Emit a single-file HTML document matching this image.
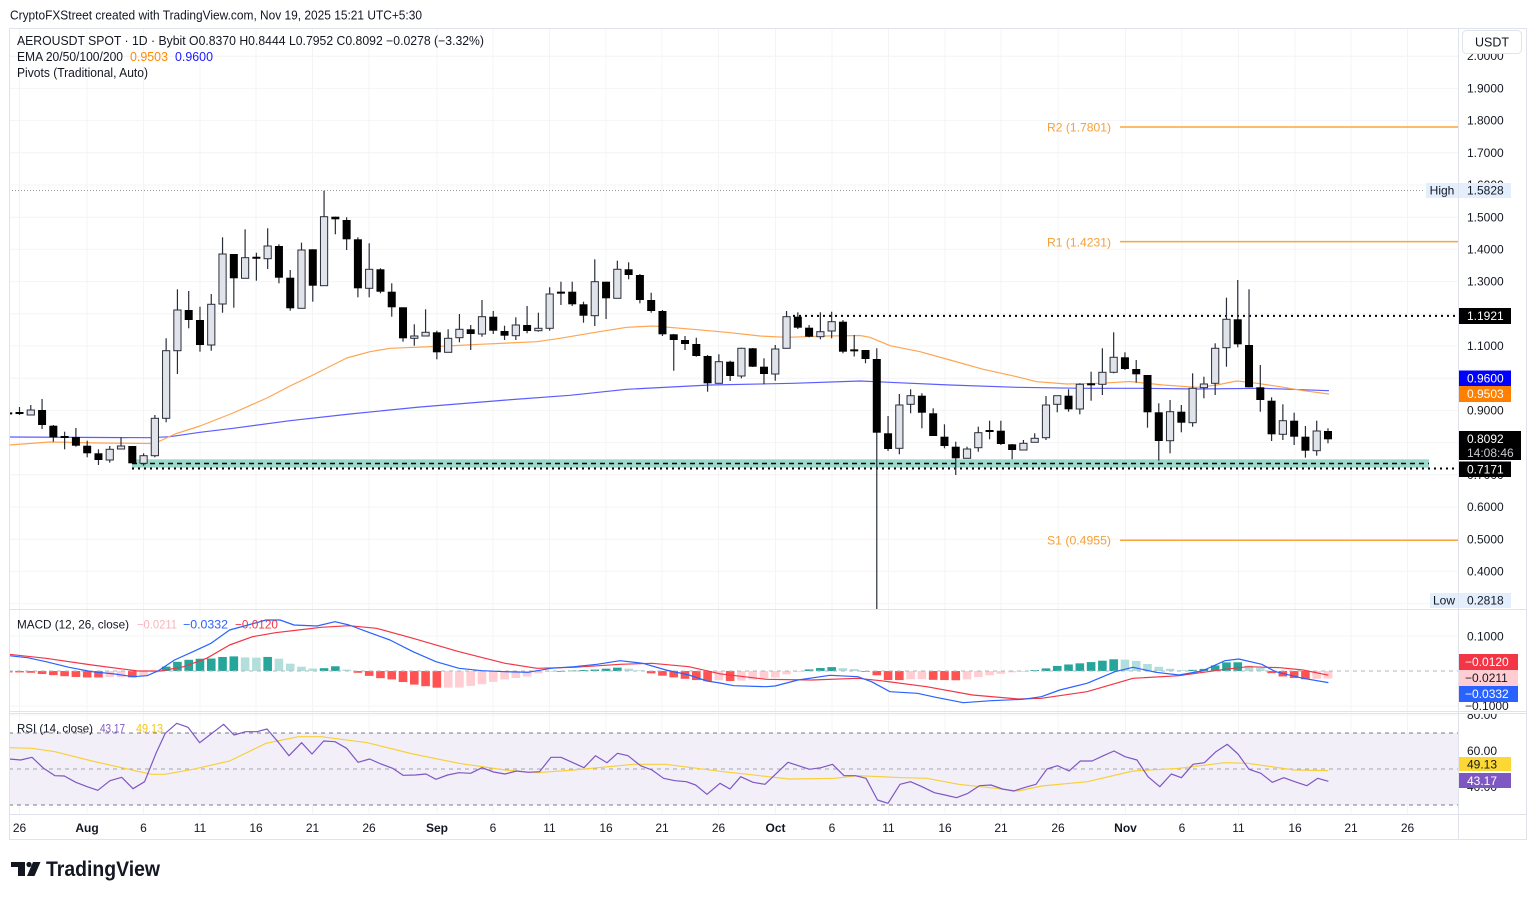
<!DOCTYPE html>
<html><head><meta charset="utf-8">
<style>
html,body{margin:0;padding:0;background:#fff;}
svg{display:block;font-family:"Liberation Sans",Arial,sans-serif;}
</style></head>
<body>
<svg id="c" width="1536" height="897" viewBox="0 0 1536 897" xmlns="http://www.w3.org/2000/svg">
<defs>
<clipPath id="cpMain"><rect x="9" y="28" width="1449" height="581"/></clipPath>
<clipPath id="cpMacd"><rect x="9" y="610" width="1449" height="102"/></clipPath>
<clipPath id="cpRsi"><rect x="9" y="714" width="1449" height="100"/></clipPath>
<clipPath id="cpAxR"><rect x="1459" y="714" width="70" height="100"/></clipPath>
</defs>
<rect x="0" y="0" width="1536" height="897" fill="#fff"/>
<g id="grid"></g>
<g id="shapes"></g>
<!-- frame -->
<g fill="none" stroke="#e0e3eb" stroke-width="1">
<rect x="9.5" y="28.5" width="1517" height="811"/>
<line x1="1458.5" y1="28" x2="1458.5" y2="840"/>
<line x1="9" y1="609.5" x2="1526" y2="609.5"/>
<line x1="9" y1="711.5" x2="1526" y2="711.5"/>
<line x1="9" y1="713.5" x2="1526" y2="713.5"/>
<line x1="9" y1="814.5" x2="1526" y2="814.5"/>
</g>
<g id="boxes"></g>

<!-- header -->
<text x="10" y="19.5" font-size="13" fill="#131722" textLength="412" lengthAdjust="spacingAndGlyphs">CryptoFXStreet created with TradingView.com, Nov 19, 2025 15:21 UTC+5:30</text>
<text x="17" y="45" font-size="12.5" fill="#131722" textLength="467" lengthAdjust="spacingAndGlyphs">AEROUSDT SPOT · 1D · Bybit  O0.8370  H0.8444  L0.7952  C0.8092  −0.0278 (−3.32%)</text>
<text x="17" y="61" font-size="12.5" fill="#131722" textLength="106" lengthAdjust="spacingAndGlyphs">EMA 20/50/100/200</text>
<text x="130" y="61" font-size="12.5" fill="#ff8a00" textLength="38" lengthAdjust="spacingAndGlyphs">0.9503</text>
<text x="175" y="61" font-size="12.5" fill="#1a1aff" textLength="38" lengthAdjust="spacingAndGlyphs">0.9600</text>
<text x="17" y="77" font-size="12.5" fill="#131722" textLength="131" lengthAdjust="spacingAndGlyphs">Pivots (Traditional, Auto)</text>

<!-- pivot labels -->
<g font-size="12" fill="#f5a03a">
<text x="1047" y="131.5" textLength="64" lengthAdjust="spacingAndGlyphs">R2 (1.7801)</text>
<text x="1047" y="246.5" textLength="64" lengthAdjust="spacingAndGlyphs">R1 (1.4231)</text>
<text x="1047" y="544.5" textLength="64" lengthAdjust="spacingAndGlyphs">S1 (0.4955)</text>
</g>

<!-- MACD / RSI legends -->
<text x="17" y="628.5" font-size="12" fill="#131722" textLength="112" lengthAdjust="spacingAndGlyphs">MACD (12, 26, close)</text>
<text x="137" y="628.5" font-size="12" fill="#f7b4bd" textLength="40" lengthAdjust="spacingAndGlyphs">−0.0211</text>
<text x="183" y="628.5" font-size="12" fill="#2962ff" textLength="45" lengthAdjust="spacingAndGlyphs">−0.0332</text>
<text x="235" y="628.5" font-size="12" fill="#f23645" textLength="43" lengthAdjust="spacingAndGlyphs">−0.0120</text>
<text x="17" y="732.5" font-size="12" fill="#131722" textLength="76" lengthAdjust="spacingAndGlyphs">RSI (14, close)</text>
<text x="100" y="732.5" font-size="12" fill="#7e57c2" textLength="25" lengthAdjust="spacingAndGlyphs">43.17</text>
<text x="136" y="732.5" font-size="12" fill="#f2c618" textLength="27" lengthAdjust="spacingAndGlyphs">49.13</text>

<!-- x axis -->
<g font-size="12" fill="#131722" text-anchor="middle">
<text x="19.5" y="832">26</text>
<text x="87" y="832" font-weight="bold">Aug</text>
<text x="143.5" y="832">6</text>
<text x="200" y="832">11</text>
<text x="256" y="832">16</text>
<text x="312.5" y="832">21</text>
<text x="369" y="832">26</text>
<text x="437" y="832" font-weight="bold">Sep</text>
<text x="493" y="832">6</text>
<text x="549.5" y="832">11</text>
<text x="606" y="832">16</text>
<text x="662" y="832">21</text>
<text x="718.5" y="832">26</text>
<text x="775.5" y="832" font-weight="bold">Oct</text>
<text x="832" y="832">6</text>
<text x="888.5" y="832">11</text>
<text x="945" y="832">16</text>
<text x="1001" y="832">21</text>
<text x="1058" y="832">26</text>
<text x="1125.5" y="832" font-weight="bold">Nov</text>
<text x="1182" y="832">6</text>
<text x="1238.5" y="832">11</text>
<text x="1295" y="832">16</text>
<text x="1351" y="832">21</text>
<text x="1407.5" y="832">26</text>
</g>

<!-- right axis labels main -->
<g font-size="12" fill="#131722">
<text x="1467" y="60">2.0000</text>
<text x="1467" y="92.5">1.9000</text>
<text x="1467" y="124.7">1.8000</text>
<text x="1467" y="156.9">1.7000</text>
<text x="1467" y="189">1.6000</text>
<text x="1467" y="221.3">1.5000</text>
<text x="1467" y="253.5">1.4000</text>
<text x="1467" y="285.7">1.3000</text>
<text x="1467" y="318">1.2000</text>
<text x="1467" y="350.1">1.1000</text>
<text x="1467" y="382.3">1.0000</text>
<text x="1467" y="414.5">0.9000</text>
<text x="1467" y="446.7">0.8000</text>
<text x="1467" y="478.9">0.7000</text>
<text x="1467" y="511.1">0.6000</text>
<text x="1467" y="543.3">0.5000</text>
<text x="1467" y="575.5">0.4000</text>
<text x="1467" y="607.7">0.3000</text>
<text x="1467" y="640.5">0.1000</text>
<text x="1465" y="710">−0.1000</text>
<g clip-path="url(#cpAxR)">
<text x="1467" y="719">80.00</text>
<text x="1467" y="755">60.00</text>
<text x="1467" y="791">40.00</text>
</g>
</g>

<!-- Right axis boxes -->
<rect x="1462.5" y="30.5" width="59" height="23" rx="4" fill="#fff" stroke="#e0e3eb"/>
<text x="1492" y="46.5" font-size="12.5" fill="#131722" text-anchor="middle">USDT</text>

<rect x="1426" y="183" width="32" height="15" fill="#e3effd"/>
<text x="1442" y="194.5" font-size="12" fill="#131722" text-anchor="middle">High</text>
<rect x="1459" y="183" width="52" height="15" fill="#e3effd"/>
<text x="1467" y="194.5" font-size="12" fill="#131722">1.5828</text>

<rect x="1459" y="308" width="52" height="16" fill="#000"/>
<text x="1467" y="320" font-size="12" fill="#fff">1.1921</text>

<rect x="1459" y="370.5" width="52" height="15.5" fill="#0000ff"/>
<text x="1467" y="382.5" font-size="12" fill="#fff">0.9600</text>
<rect x="1459" y="386" width="52" height="16" fill="#ff7f00"/>
<text x="1467" y="398" font-size="12" fill="#fff">0.9503</text>

<rect x="1459" y="431" width="62" height="29" fill="#000"/>
<text x="1467" y="443" font-size="12" fill="#fff">0.8092</text>
<text x="1467" y="457" font-size="12" fill="#c8cad0">14:08:46</text>
<rect x="1459" y="461.5" width="52" height="15.5" fill="#000"/>
<text x="1467" y="473.5" font-size="12" fill="#fff">0.7171</text>

<rect x="1430" y="593" width="28" height="15" fill="#e3effd"/>
<text x="1444" y="604.5" font-size="12" fill="#131722" text-anchor="middle">Low</text>
<rect x="1459" y="593" width="52" height="15" fill="#e3effd"/>
<text x="1467" y="604.5" font-size="12" fill="#131722">0.2818</text>

<rect x="1459" y="654" width="59" height="16" fill="#f23645"/>
<text x="1465" y="666" font-size="12" fill="#fff">−0.0120</text>
<rect x="1459" y="670" width="59" height="16" fill="#ffcdd2"/>
<text x="1465" y="682" font-size="12" fill="#131722">−0.0211</text>
<rect x="1459" y="686" width="59" height="16" fill="#2962ff"/>
<text x="1465" y="698" font-size="12" fill="#fff">−0.0332</text>

<rect x="1459" y="757" width="52" height="14" fill="#fdd835"/>
<text x="1467" y="768.5" font-size="12" fill="#131722">49.13</text>
<rect x="1459" y="773" width="52" height="15" fill="#7e57c2"/>
<text x="1467" y="785" font-size="12" fill="#fff">43.17</text>

<!-- logo -->
<g fill="#131722">
<rect x="11" y="862" width="14" height="5"/>
<rect x="18" y="862" width="7" height="14"/>
<circle cx="29" cy="864.5" r="2.6"/>
<polygon points="33,862 40.5,862 34.5,876 27,876"/>
</g>
<text x="46" y="876" font-size="21" font-weight="bold" fill="#131722" textLength="114" lengthAdjust="spacingAndGlyphs">TradingView</text>
</svg>

<script>
(function(){
var NS="http://www.w3.org/2000/svg";
var shapes=document.getElementById("shapes");
var grid=document.getElementById("grid");
function el(tag,attrs,parent){var e=document.createElementNS(NS,tag);for(var k in attrs)e.setAttribute(k,attrs[k]);(parent||shapes).appendChild(e);return e;}
function X(i){return 19.5+i*11.28;}

// grid
var gx=[19.5,87,143.5,200,256,312.5,369,437,493,549.5,606,662,718.5,775.5,832,888.5,945,1001,1058,1125.5,1182,1238.5,1295,1351,1407.5];
gx.forEach(function(x){el("line",{x1:x,y1:29,x2:x,y2:814,stroke:"#f3f4f6","stroke-width":1},grid);});
for(var p=2.0;p>=0.29;p-=0.1){var y=88.4+(1.9-p)*322;if(y>29&&y<609)el("line",{x1:9,y1:y,x2:1458,y2:y,stroke:"#f3f4f6","stroke-width":1},grid);}
[636,706].forEach(function(y){el("line",{x1:9,y1:y,x2:1458,y2:y,stroke:"#f3f4f6"},grid);});
[715,751,787].forEach(function(y){el("line",{x1:9,y1:y,x2:1458,y2:y,stroke:"#f3f4f6"},grid);});

// ---------- main pane ----------
var gm=el("g",{"clip-path":"url(#cpMain)"});
// teal zone
el("rect",{x:132,y:459.3,width:1297,height:8.4,fill:"#9bd9cc"},gm);
el("line",{x1:132,y1:463.5,x2:1429,y2:463.5,stroke:"#000","stroke-width":1.5,"stroke-dasharray":"5 4"},gm);
el("line",{x1:132,y1:468.5,x2:1458,y2:468.5,stroke:"#000","stroke-width":2,"stroke-dasharray":"2 4"},gm);
// 1.1921 line
el("line",{x1:793,y1:315.9,x2:1458,y2:315.9,stroke:"#000","stroke-width":2,"stroke-dasharray":"2 4"},gm);
// high line
el("line",{x1:9,y1:190.5,x2:1425,y2:190.5,stroke:"#9598a1","stroke-width":1,"stroke-dasharray":"1 2"},gm);
// pivots
[127,241.6,540.2].forEach(function(y){el("line",{x1:1120,y1:y,x2:1458,y2:y,stroke:"#f9a53a","stroke-width":1.5},gm);});

function poly(pts,color,w,parent){el("polyline",{points:pts.map(function(p){return p[0]+","+p[1];}).join(" "),fill:"none",stroke:color,"stroke-width":w,"stroke-linejoin":"round"},parent);}
var orange=[[9,445],[50,442],[100,443],[150,443.5],[160,441],[175,434],[200,426],[233,413],[267,398],[290,386],[313,375],[346.7,358],[370,351.7],[390,348.3],[446.7,346],[480,344.3],[536.7,341.7],[560,338.3],[593,332.7],[626.7,327.3],[653,326],[693,329.3],[726.7,332.3],[760,336],[786.7,337.3],[826.7,336],[860,335.5],[870,337.3],[890,345.7],[920,351.7],[950,360],[983.3,369.3],[1016.7,376.7],[1036.7,381.7],[1066.7,384],[1100,383.3],[1130,381.5],[1163,385],[1196.7,387.3],[1216.7,385],[1236.7,381],[1250,382.3],[1280,386.7],[1303.3,390.7],[1329,394]];
var blue=[[9,437],[150,437.7],[170,436.7],[200,432.3],[233,428.3],[290,420.7],[350,414],[420,407],[506.7,400],[570,395.3],[626.7,389.3],[710,385],[793,383.3],[860,381],[950,385],[1016.7,387.3],[1083,388.3],[1140,388.3],[1196.7,389],[1263,388.3],[1329,390.7]];
poly(blue,"#5c5cff",1.2,gm);
poly(orange,"#ffa552",1.2,gm);

var C=[
[-1,413,412,414.5,413.8],[0,412,407,415,414],[1,415,405,415.5,410],[2,410,399,429,425],[3,425.7,425,441.7,437.3],
[4,436.5,431.7,449.3,437.5],[5,437,428,446.7,445.7],[6,445.7,440.7,457.3,453.3],[7,453.3,449.3,465,460],[8,460,446,462.7,449.3],
[9,449,437.3,449.5,446],[10,446,446,463.5,463.3],[11,463.3,453.3,465.7,455.7],[12,455.7,415,457.3,418.3],[13,418.3,338.3,422.3,350.7],
[14,350.7,289.3,374,310],[15,310,291,328.3,320],[16,320,306.7,351.7,345],[17,345,294,350.7,304.3],[18,304,237.3,312.7,254],
[19,254,254,307.7,278.3],[20,278.3,229.3,278.3,257.7],[21,257,252.7,280.7,258.5],[22,258.7,228.3,269,246],[23,246,244.3,283.3,277.7],
[24,277.7,270,310.7,308.3],[25,308.3,242.7,308.3,250],[26,249.3,249.3,301.7,285.7],[27,285.7,190.7,285.7,216.7],[28,216.7,216.7,234.3,219.3],
[29,220,217.3,250,239.3],[30,239.3,237.3,297.3,288.3],[31,288.3,243.3,297.3,269.3],[32,269.3,268.3,293.3,291.7],[33,291.7,283.3,316.7,307.3],
[34,307.3,307.3,341.7,338.3],[35,338.3,324.3,345.7,336],[36,336,309.3,336,332.3],[37,332.3,330.7,359.3,352.3],[38,352.3,329.3,352.3,338.3],
[39,337.7,314,342.3,329.3],[40,329.3,325,350,334],[41,334,300,336.7,316.7],[42,316.7,311,334,330.7],[43,331,325.7,340,335.7],
[44,335.7,317.3,340,325],[45,325,306,333.3,331],[46,330.7,312.7,331.7,328.3],[47,328.3,287.3,330.7,294],[48,292,281.7,305,293.3],
[49,291.7,281.7,306,304.3],[50,304.3,301.7,322.7,315.7],[51,315.7,259.3,326,281.7],[52,281.7,281.7,319,298.3],[53,298.3,260.7,298.3,269.3],
[54,269.3,262.3,279.3,275],[55,275,274,303.3,300],[56,300,292.7,312.7,311],[57,311,310,336,334.3],[58,334.3,334,370.7,340],
[59,340,336,350,344],[60,344,337.7,356.7,356],[61,356,355,391.7,383.3],[62,383.3,354.3,383.3,361.7],[63,361.7,360.7,381,376],
[64,376,347.7,378.3,348.3],[65,348.3,348,367,366.7],[66,366.7,358.3,384.3,374],[67,374,345,380.7,349],[68,348.3,311,348.3,316.7],
[69,316.7,312.3,329,327.7],[70,327.7,325,337.3,336.7],[71,336.7,312.3,339.3,331.7],[72,331,311.7,338.3,321.7],[73,321.7,320,353.3,351.7],
[74,350,335,356.5,350.7],[75,350,350,363.3,359],[76,359,348.3,609,432.7],[77,433.3,416,451,449],[78,448.3,394,454.3,405],
[79,404.3,389.3,413.3,395.7],[80,395.7,393.3,428.3,412.7],[81,413.3,408.3,436,436],[82,436.7,424.3,448.3,446],[83,446.7,441.7,475,458.3],
[84,458.3,446.7,458.3,449],[85,447.7,426.7,451.7,432.7],[86,430.5,420.7,439.3,431.5],[87,430.7,420.7,445,444],[88,444.3,444,459.3,450],
[89,450,440,450,443.3],[90,442.3,433.3,442.3,438.3],[91,437.7,396,440,405],[92,404.3,395.7,412.3,395.7],[93,395.7,389.3,411.7,409.3],
[94,409,383.3,414.3,384.3],[95,384,371.7,400.7,384.6],[96,384.3,348.3,395,372.3],[97,372.3,332.3,373.3,357.3],[98,357.3,352.3,370,369],
[99,369,360,382.7,374.3],[100,375,375,427.7,412.3],[101,412.3,403.3,460.7,441],[102,440.7,400,453.3,411.7],[103,411.7,405,432.3,422.7],
[104,422.7,373.3,426.7,388.3],[105,387.7,376.7,398.3,384],[106,383.3,343.3,395,348.3],[107,347.7,297.7,366.7,319.3],[108,319.3,280,347.3,344.3],
[109,345,289.3,387.3,387.3],[110,387.3,365,411.7,400],[111,400.7,397.3,441,434.3],[112,434.3,404.3,440,420.7],[113,420.7,412.7,445,436.7],
[114,436.7,426,457.7,450.7],[115,450.7,420.7,455.7,431],[116,431,428.3,443.3,439.3]
];
C.forEach(function(c){
  var x=X(c[0]),o=c[1],h=c[2],l=c[3],cl=c[4];
  var up=cl<o-1.2;
  el("line",{x1:x,y1:h,x2:x,y2:l,stroke:"#2a2e39","stroke-width":1.2},gm);
  var top=Math.min(o,cl),bot=Math.max(o,cl);
  if(bot-top<1.6){top=(top+bot)/2-1;bot=top+2;}
  if(up){el("rect",{x:x-3.6,y:top,width:7.2,height:bot-top,fill:"#e1e3ea",stroke:"#2a2e39","stroke-width":1},gm);}
  else{el("rect",{x:x-4,y:top,width:8,height:bot-top,fill:"#000"},gm);}
});

// ---------- MACD ----------
var gmacd=el("g",{"clip-path":"url(#cpMacd)"});
var macd=[[9,655.7],[27.5,657.7],[46,661.7],[69,667.3],[92,671.7],[115,674],[133,676.7],[147,675.7],[158,671],[174.5,660],[193,651.7],[211,643.3],[229.6,630],[248,625],[266,620],[280,620],[294,625],[317,626],[335,621.7],[349,625],[367,631.7],[390,640],[413,651.7],[436,661.7],[459,668.3],[482,670.7],[505,671.7],[528,672.3],[551,668.3],[574,666.7],[597,664.3],[620,660.7],[643,663.3],[666,670],[689,675],[707,681],[720,683],[733.8,685.7],[766,686.7],[775,686],[798,680],[830,675.3],[857.7,676.7],[871.5,681.7],[890,691.7],[917.4,693.3],[935.8,697.3],[963.3,702.7],[991,700.7],[1023,699.3],[1041.4,696.7],[1059.8,690],[1087,683.3],[1114.9,671.7],[1133,667.3],[1156,672.3],[1179,675],[1202,671],[1225,660.7],[1238.8,659],[1261.8,664.3],[1275.5,671.7],[1303,678.3],[1328.4,682.6]];
var sig=[[9,654.3],[46,658.3],[92,665],[138,671],[160.7,671],[183.6,666.7],[206.6,658.3],[229.6,645],[252.5,636.7],[275.5,632.7],[298.4,630],[321.4,627.3],[349,625.7],[376.5,628.3],[413,638.3],[459,651.7],[505,663.3],[537,668.3],[574,667.3],[620,664.3],[652,663.3],[689,666.7],[720,673.8],[766,679.3],[812,680],[857.7,678.3],[880.7,680.7],[926.6,686.7],[972.5,695],[1018.4,699],[1041.4,698.3],[1087,691.7],[1133,678.3],[1179,675.7],[1225,669.3],[1248,666.7],[1280,667.7],[1303,670],[1328.4,675.2]];
function interp(arr,x){if(x<=arr[0][0])return arr[0][1];for(var k=1;k<arr.length;k++){if(x<=arr[k][0]){var a=arr[k-1],b=arr[k];return a[1]+(b[1]-a[1])*(x-a[0])/(b[0]-a[0]);}}return arr[arr.length-1][1];}
var prev=null;
for(var i=-1;i<=116;i++){
  var x=X(i);var h=interp(sig,x)-interp(macd,x);
  var col;
  if(h>=0){col=(prev===null||h>=prev)?"#26a69a":"#b2dfdb";}
  else{col=(prev===null||h<=prev)?"#ff5252":"#ffcdd2";}
  prev=h;
  var yT=Math.min(671,671-h),hh=Math.max(Math.abs(h),0.8);
  el("rect",{x:x-4.3,y:yT,width:8.6,height:hh,fill:col},gmacd);
}
el("line",{x1:9,y1:671,x2:1458,y2:671,stroke:"#b2b5be","stroke-width":1,"stroke-dasharray":"4 4"},gmacd);
poly(sig,"#f23645",1.2,gmacd);
poly(macd,"#2962ff",1.2,gmacd);

// ---------- RSI ----------
var grsi=el("g",{"clip-path":"url(#cpRsi)"});
el("rect",{x:9,y:733,width:1449,height:72,fill:"#f2eff9"},grsi);
el("line",{x1:9,y1:733,x2:1458,y2:733,stroke:"#787b86","stroke-width":1,"stroke-dasharray":"4 4"},grsi);
el("line",{x1:9,y1:769,x2:1458,y2:769,stroke:"#a3a6af","stroke-width":1,"stroke-dasharray":"4 4"},grsi);
el("line",{x1:9,y1:805,x2:1458,y2:805,stroke:"#787b86","stroke-width":1,"stroke-dasharray":"4 4"},grsi);
var rsiMa=[[9,747.7],[32,748.3],[55,751.7],[92,761],[128.6,769.3],[151.5,774.3],[165,774.3],[193,769.3],[229.6,761],[266,743.3],[298.4,736.7],[321.4,736.7],[367.3,742.7],[413,754],[459,763.3],[505,770],[537,772.7],[574,770],[633.6,764.3],[665.7,764.3],[720,771.3],[747.5,774.3],[788.9,779],[834.8,778.3],[857.7,775.7],[903.7,777.7],[926.6,778.3],[958.7,784.3],[995.5,788.3],[1018.4,791],[1041.4,786],[1087.3,781.7],[1133.2,771],[1179,768.3],[1225,762.7],[1248,763.3],[1294,770],[1328.4,770.6]];
var rsi=[[9,759],[20.7,760],[32,757.3],[43.6,768.3],[55,775.7],[64.3,776],[75.8,782.3],[87.2,786.7],[97.8,790.3],[110,780.7],[121.7,777.3],[133,788.7],[144.6,781.7],[156,753.3],[165.3,733.3],[176.8,723.3],[188,727.3],[199.7,742.7],[211,734],[223.6,724.3],[234,735],[245.6,731.7],[257,731.7],[267,729],[278.7,742.7],[289,755.7],[301.6,742.7],[312,754],[323.7,741],[335,741.7],[346.6,748.3],[358,762.3],[369.6,759],[381,764],[392.6,768.3],[403,775.3],[415.5,775],[426,774],[436,779.3],[447.6,775],[459,772.7],[470.6,773.3],[482,767.7],[493.6,772],[505,774],[516.5,771],[528,772.3],[539.5,771.7],[551,757.3],[561,757.3],[573,762.7],[584,767.7],[595.5,755.7],[607,762.7],[617.5,753.3],[628,755.7],[640.5,765.7],[652,770],[663.5,778.3],[675,780.7],[686.4,781.7],[695.6,785],[707,794.3],[720,783.3],[730,789],[740.7,776.7],[753,782.3],[765,784.3],[788,762.3],[809.5,769.3],[821,767.7],[832.5,764.3],[844,775.7],[855.4,775.7],[866,778.3],[877.5,800],[888,803.3],[900,784.3],[910.5,781.7],[922,786.7],[934.4,792.7],[945,795],[956.5,797.7],[968,793.3],[979.4,785.7],[991,785],[1002.4,789],[1013.8,791],[1025.3,787.3],[1036,784.3],[1047,769],[1057.5,765.7],[1069,771],[1080.4,761],[1092,761],[1103.4,755.7],[1114,751],[1125,756.7],[1137,760],[1148,776.7],[1159.8,786.7],[1171.3,774],[1181.4,777.7],[1193,764.3],[1204.4,762.7],[1215.9,751.7],[1227.3,744.3],[1238,754],[1249,769.3],[1260.9,773.3],[1272.3,782.3],[1283.8,777.7],[1294.8,781.7],[1306.8,785.7],[1317.8,778.3],[1328.4,781.3]];
poly(rsiMa,"#f7d03c",1.2,grsi);
poly(rsi,"#7e57c2",1.2,grsi);
})();
</script>
</body></html>
